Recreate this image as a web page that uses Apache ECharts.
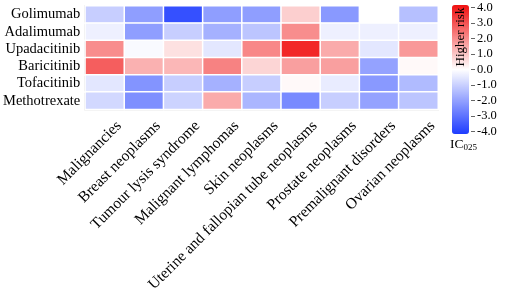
<!DOCTYPE html>
<html>
<head>
<meta charset="utf-8">
<script src="https://cdn.jsdelivr.net/npm/echarts@6/dist/echarts.min.js"></script>
<style>html,body{margin:0;padding:0;background:#fff;}#c{width:505px;height:295px;}</style>
</head>
<body>
<div id="c"></div>
<script>
const drugs = ['Golimumab','Adalimumab','Upadacitinib','Baricitinib','Tofacitinib','Methotrexate'];
const events = ['Malignancies','Breast neoplasms','Tumour lysis syndrome','Malignant lymphomas','Skin neoplasms','Uterine and fallopian tube neoplasms','Prostate neoplasms','Premalignant disorders','Ovarian neoplasms'];
const golimumab    = [-1.0, -2.0, -3.6, -2.0, -2.0,  0.8, -2.1,  0.0, -1.3];
const adalimumab   = [-0.3, -2.0, -1.0, -1.6, -1.2,  1.9, -0.3, -0.3, -0.3];
const upadacitinib = [ 1.9, -0.1,  0.5, -0.5,  2.0,  3.6,  1.4, -0.5,  1.7];
const baricitinib  = [ 2.7,  1.3,  1.2,  2.1,  0.7,  1.6,  1.6, -1.9,  0.1];
const tofacitinib  = [-0.5, -2.2, -1.0, -1.6, -1.0,  0.1, -0.4, -2.1, -1.4];
const methotrexate = [-0.8, -2.3, -0.9,  1.4, -1.5, -2.4, -1.0, -1.9, -1.2];
const colorTicks = [-4, -3, -2, -1, 0, 1, 2, 3, 4];

const rows = [golimumab, adalimumab, upadacitinib, baricitinib, tofacitinib, methotrexate];
const data = [];
rows.forEach((r, yi) => r.forEach((v, xi) => data.push([xi, yi, v])));

const FONT = '"Liberation Serif", "Times New Roman", serif';
const chart = echarts.init(document.getElementById('c'));
chart.setOption({
  animation: false,
  backgroundColor: '#fff',
  grid: [
    {left: 85, top: 6, width: 353, height: 125, show: true, borderColor: '#c4c4c4', borderWidth: 2, backgroundColor: 'transparent'},
    {left: 471, top: 7.3, width: 1, height: 124.4}
  ],
  xAxis: [
    {type: 'category', data: events, gridIndex: 0,
     axisLine: {show: false}, axisTick: {show: false}, splitLine: {show: false},
     axisLabel: {rotate: 45, interval: 0, margin: 0, verticalAlign: 'top', padding: [12, 0, 0, 0],
                 color: '#000', fontFamily: FONT, fontSize: 15.5}},
    {type: 'value', gridIndex: 1, show: false}
  ],
  yAxis: [
    {type: 'category', data: drugs, inverse: true, gridIndex: 0,
     axisLine: {show: false}, axisTick: {show: false}, splitLine: {show: false},
     axisLabel: {interval: 0, hideOverlap: false, margin: 5, color: '#000', fontFamily: FONT, fontSize: 14.5}},
    {type: 'value', gridIndex: 1, min: colorTicks[0], max: colorTicks[colorTicks.length - 1], interval: 1, position: 'right',
     axisLine: {show: false}, splitLine: {show: false},
     axisTick: {show: true, length: 4, lineStyle: {color: '#666'}},
     axisLabel: {margin: 5, color: '#000', fontFamily: FONT, fontSize: 12.5, formatter: v => v.toFixed(1)}}
  ],
  visualMap: {
    type: 'continuous', min: -4, max: 4, calculable: false, orient: 'vertical',
    left: 452, top: 5, padding: 0, itemWidth: 17, itemHeight: 129, text: null,
    showLabel: false,
    inRange: {color: ['#1e3cff', '#ffffff', '#f01010']},
    seriesIndex: 0
  },
  series: [{
    type: 'heatmap', data: data, xAxisIndex: 0, yAxisIndex: 0,
    itemStyle: {borderColor: '#fff', borderWidth: 1.5},
    emphasis: {disabled: true}
  }],
  graphic: [
    {type: 'text', x: 460.5, y: 37, rotation: Math.PI / 2, z: 100,
     style: {text: 'Higher risk', font: '13px ' + FONT, fill: '#000', align: 'center', verticalAlign: 'middle'}},
    {type: 'text', left: 450, top: 137, z: 100,
     style: {text: '{a|IC}{b|025}', rich: {a: {fontFamily: FONT, fontSize: 13.5, color: '#000'}, b: {fontFamily: FONT, fontSize: 9, color: '#000', padding: [7, 0, 0, 0]}}}}
  ]
});
</script>
</body>
</html>
